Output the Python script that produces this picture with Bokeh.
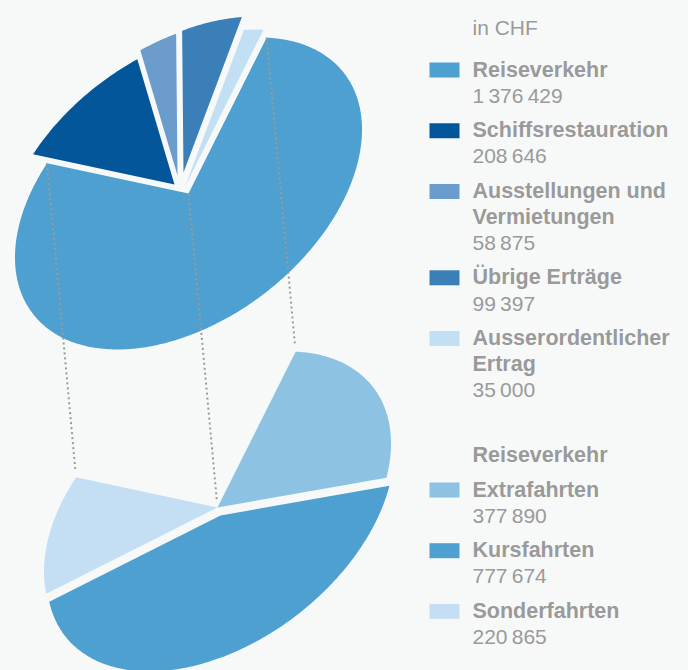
import numpy as np
from bokeh.plotting import figure
from bokeh.models import Range1d, ColumnDataSource
from bokeh.embed import file_html
from bokeh.resources import INLINE
from bokeh.core.properties import value

# ---------------- data ----------------
unit_label = "in CHF"
top_labels = [["Reiseverkehr"], ["Schiffsrestauration"], ["Ausstellungen und", "Vermietungen"],
              ["Übrige Erträge"], ["Ausserordentlicher", "Ertrag"]]
top_values = [1376429, 208646, 58875, 99397, 35000]
sub_title = "Reiseverkehr"
sub_labels = [["Extrafahrten"], ["Kursfahrten"], ["Sonderfahrten"]]
sub_values = [377890, 777674, 220865]

# ---------------- styles ----------------
top_colors = ["#4ea0d1", "#03569a", "#6b9ccb", "#3a7fb8", "#c3dff3"]
sub_colors = ["#8dc2e2", "#4ea0d1", "#c4dff3"]
top_offsets = [(0, 0), (-14, -9), (-11, -18), (-5, -21), (-3, -8)]
sub_offsets = [(0, 0), (3, 8), (0, 0)]
BG = "#f7f9f9"
TXT = "#9a9a9a"
FONT = "Liberation Sans"
TEXT_DY = -8.0

# ellipse geometry (pixel space, y down)
A_SEMI, B_SEMI, PHI = 196.7, 125.5, np.radians(37.7)
V1 = np.array([np.cos(PHI), -np.sin(PHI)])
V2 = np.array([np.sin(PHI), np.cos(PHI)])
TOP_C = np.array([188.0, 193.0])
BOT_C = np.array([217.0, 507.0])
T0 = np.radians(-37.0)


def ept(c, t):
    return c + A_SEMI * np.cos(t) * V1 + B_SEMI * np.sin(t) * V2


def wedge(c, t1, t2, off):
    ts = np.linspace(t1, t2, max(int(abs(t2 - t1) * 60), 4))
    pts = np.array([ept(c, t) for t in ts])
    xs = [c[0] + off[0]] + list(pts[:, 0] + off[0])
    ys = [c[1] + off[1]] + list(pts[:, 1] + off[1])
    return xs, ys


p = figure(width=688, height=670, x_range=Range1d(0, 688), y_range=Range1d(670, 0),
           x_axis_type=None, y_axis_type=None, output_backend="svg", toolbar_location=None,
           min_border=0, outline_line_color=None,
           background_fill_color=BG, border_fill_color=BG)
p.grid.visible = False

# top pie
total = sum(top_values)
xs, ys = [], []
t = T0
bounds = []
for v, off in zip(top_values, top_offsets):
    sweep = 2 * np.pi * v / total
    x, y = wedge(TOP_C, t, t + sweep, off)
    xs.append(x); ys.append(y)
    bounds.append((t, t + sweep))
    t += sweep
p.patches(xs="xs", ys="ys", fill_color="color", line_color=None,
          source=ColumnDataSource(dict(xs=xs, ys=ys, color=top_colors)))

# bottom pie: breakdown of first slice over the same angular range
r_start, r_end = bounds[0]
sub_total = sum(sub_values)
xs, ys = [], []
t = r_start
for v, off in zip(sub_values, sub_offsets):
    sweep = (r_end - r_start) * v / sub_total
    x, y = wedge(BOT_C, t, t + sweep, off)
    xs.append(x); ys.append(y)
    t += sweep
p.patches(xs="xs", ys="ys", fill_color="color", line_color=None,
          source=ColumnDataSource(dict(xs=xs, ys=ys, color=sub_colors)))

# dotted connectors
lx, ly = [], []
for a, b in [(TOP_C, BOT_C), (ept(TOP_C, r_start), ept(BOT_C, r_start)),
             (ept(TOP_C, r_end), ept(BOT_C, r_end))]:
    d = b - a
    b2 = b - d / np.linalg.norm(d) * 6
    lx.append([a[0], b2[0]]); ly.append([a[1], b2[1]])
p.multi_line(xs=lx, ys=ly, line_color="#9a9a9a", line_width=2, line_dash="2 3")

# legend
TX, SQ_L, SQ_R = 472, 429, 459
LINE_H, GAP = 25.7, 35.0
tx, ty, tw = [], [], []
bx, by, bw = [], [], []
sq_top, sq_bot, sq_col = [], [], []


def fmt(v):
    return f"{v:,}".replace(",", "\u2009")


tx.append(TX); ty.append(35 + TEXT_DY); tw.append(unit_label)
y = 77.0
for lines, v, col in zip(top_labels, top_values, top_colors):
    sq_top.append(y - 15); sq_bot.append(y); sq_col.append(col)
    for ln in lines:
        bx.append(TX); by.append(y + TEXT_DY); bw.append(ln)
        y += LINE_H
    tx.append(TX); ty.append(y + TEXT_DY); tw.append(fmt(v))
    y += GAP

y = 462.0
bx.append(TX); by.append(y + TEXT_DY); bw.append(sub_title)
y += GAP
for lines, v, col in zip(sub_labels, sub_values, sub_colors):
    sq_top.append(y - 15); sq_bot.append(y); sq_col.append(col)
    for ln in lines:
        bx.append(TX); by.append(y + TEXT_DY); bw.append(ln)
        y += LINE_H
    tx.append(TX); ty.append(y + TEXT_DY); tw.append(fmt(v))
    y += GAP

p.quad(left=SQ_L, right=SQ_R, top="top", bottom="bottom", fill_color="color", line_color=None,
       source=ColumnDataSource(dict(top=sq_top, bottom=sq_bot, color=sq_col)))
p.text(x="x", y="y", text="t", source=ColumnDataSource(dict(x=tx, y=ty, t=tw)),
       text_font=value(FONT), text_font_size="21px", text_color=TXT,
       text_baseline="alphabetic", text_align="left")
p.text(x="x", y="y", text="t", source=ColumnDataSource(dict(x=bx, y=by, t=bw)),
       text_font=value(FONT), text_font_size="21.5px", text_font_style="bold", text_color=TXT,
       text_baseline="alphabetic", text_align="left")

html = file_html(p, INLINE)
html = html.replace("<head>", "<head><style>html,body{background:%s;}</style>" % BG, 1)
open("out.html", "w").write(html)
